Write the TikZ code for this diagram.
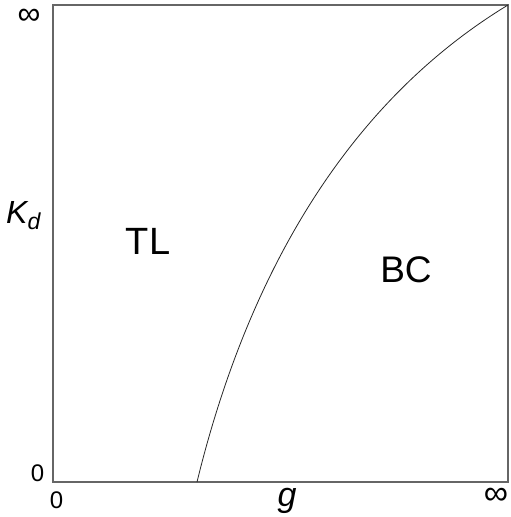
\documentclass[tikz,border=0pt]{standalone}
\usepackage{fontspec}
\setmainfont{Liberation Sans}
\begin{document}
\begin{tikzpicture}[x=1pt,y=-1pt,
  lbl/.style={inner sep=0pt,anchor=center},
  frame/.style={draw=black!60,line width=1.4pt},
  boundary/.style={draw=black!85,line width=0.8pt}]
\useasboundingbox (0,0) rectangle (511,517);
\coordinate (tl0) at (53,5);
\coordinate (bl) at (53,482);
\coordinate (br) at (508,482);
\coordinate (tr) at (508,5);
\coordinate (start) at (197,482);
\draw[frame] (tl0) -- (bl) -- (br) -- (tr) -- cycle;
\draw[boundary] (start) .. controls (237,318) and (322,118) .. (tr);
\node[lbl,font=\fontsize{32}{32}\selectfont] (inftop) at (29,17) {∞};
\node[lbl,font=\fontsize{34}{34}\selectfont] (infright) at (496,496) {∞};
\node[lbl,font=\fontsize{24}{24}\selectfont] (zeroy) at (37.5,473) {0};
\node[lbl,font=\fontsize{24}{24}\selectfont] (zerox) at (56.5,500) {0};
\node[lbl,font=\fontsize{38}{38}\selectfont] (tl) at (148,241.5) {TL};
\node[lbl,font=\fontsize{37}{37}\selectfont] (bc) at (406,269.5) {BC};
\node[anchor=base,inner sep=0pt,font=\fontsize{34}{34}\selectfont\itshape] (g) at (287,506) {g};
\node[anchor=base west,inner sep=0pt,font=\fontsize{32}{32}\selectfont\itshape] (kd) at (6,223) {K\raisebox{-6pt}{\fontsize{23}{23}\selectfont d}};
\end{tikzpicture}
\end{document}
